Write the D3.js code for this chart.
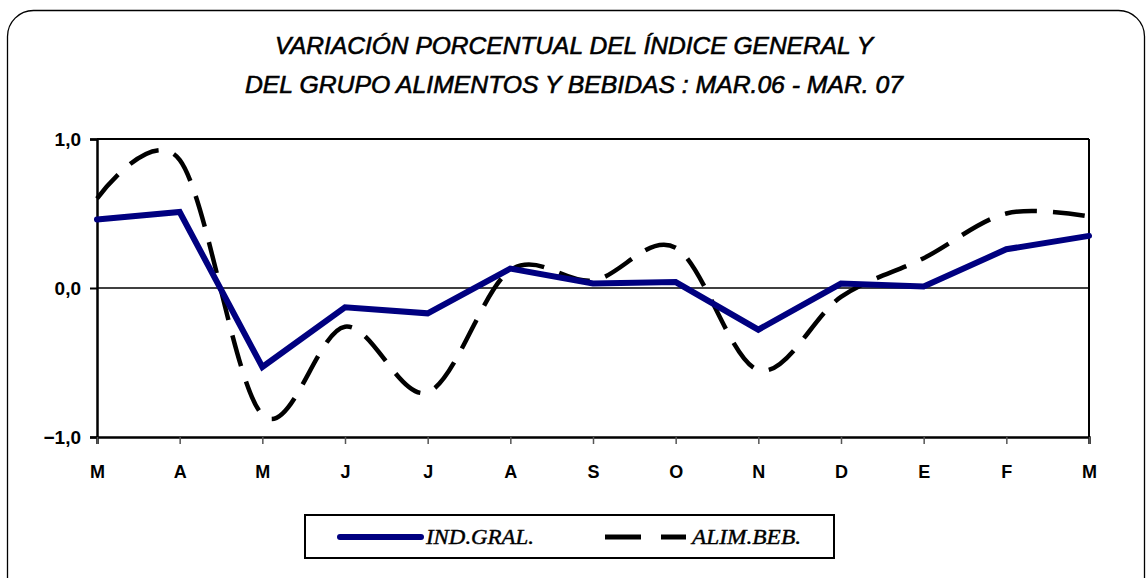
<!DOCTYPE html>
<html><head><meta charset="utf-8">
<script src="https://cdn.jsdelivr.net/npm/d3@7"></script>
<style>body{margin:0;background:#fff;}svg{display:block;}</style>
</head><body>
<svg id="c" width="1147" height="578"></svg>
<script>
const categories = ["M","A","M","J","J","A","S","O","N","D","E","F","M"];
const indGral   = [0.46, 0.51, -0.53, -0.13, -0.17, 0.13, 0.03, 0.04, -0.28, 0.03, 0.01, 0.26, 0.35];
const alimBeb   = [0.60, 0.86, -0.85, -0.26, -0.70, 0.12, 0.05, 0.27, -0.55, -0.06, 0.20, 0.50, 0.48];
const yTicks    = [-1, 0, 1];
const titleLines = ["VARIACIÓN PORCENTUAL DEL ÍNDICE GENERAL Y", "DEL GRUPO ALIMENTOS Y BEBIDAS : MAR.06 - MAR. 07"];
const seriesNames = ["IND.GRAL.", "ALIM.BEB."];

const svg = d3.select("#c");
// outer rounded frame
svg.append("rect").attr("x",7.5).attr("y",10.5).attr("width",1137).attr("height",600)
  .attr("rx",26).attr("fill","none").attr("stroke","#000").attr("stroke-width",1.3);

// title
const titleW = [598, 658];
titleLines.forEach((t,i)=>{
  svg.append("text").attr("x",574).attr("y",54+i*39).attr("text-anchor","middle")
    .attr("font-family","'Liberation Sans',Arial,sans-serif")
    .attr("font-style","italic").attr("font-size",24).attr("fill","#000")
    .attr("stroke","#000").attr("stroke-width",0.6)
    .attr("textLength",titleW[i]).attr("lengthAdjust","spacingAndGlyphs").text(t);
});

const x0=97, x1=1089, yTop=139, yBot=437;
const x = d3.scalePoint().domain(d3.range(categories.length)).range([x0,x1]);
const y = d3.scaleLinear().domain([-1,1]).range([yBot,yTop]);

// plot border top/right
svg.append("line").attr("x1",x0).attr("x2",x1).attr("y1",yTop).attr("y2",yTop).attr("stroke","#000").attr("stroke-width",2);
svg.append("line").attr("x1",x1).attr("x2",x1).attr("y1",yTop).attr("y2",yBot).attr("stroke","#000").attr("stroke-width",2);

// zero line
svg.append("line").attr("x1",x0).attr("x2",x1).attr("y1",y(0)).attr("y2",y(0)).attr("stroke","#000").attr("stroke-width",1.5);

const af = "'Liberation Sans',Arial,sans-serif";
// y axis
const yAxis = d3.axisLeft(y).tickValues(yTicks).tickSize(7).tickFormat(d=>d3.format(".1f")(d).replace(".",","));
const gy = svg.append("g").attr("transform",`translate(${x0},0)`).call(yAxis);
gy.attr("font-size",null).attr("font-family",null);
gy.select(".domain").attr("stroke","#000").attr("stroke-width",2.5);
gy.selectAll(".tick line").attr("stroke","#000").attr("stroke-width",2);
gy.selectAll(".tick text").style("font-family",af).style("font-weight","bold")
  .style("font-size","19px").attr("fill","#000").attr("x",-16);

// x axis
const xAxis = d3.axisBottom(x).tickSize(7).tickFormat(i=>categories[i]);
const gx = svg.append("g").attr("transform",`translate(0,${yBot})`).call(xAxis);
gx.attr("font-size",null).attr("font-family",null);
gx.select(".domain").attr("stroke","#000").attr("stroke-width",2.5);
gx.selectAll(".tick line").attr("stroke","#555").attr("stroke-width",1.5);
gx.selectAll(".tick text").style("font-family",af).style("font-weight","bold")
  .style("font-size","18px").attr("fill","#000").attr("y",28);

// series
const lineStraight = d3.line().x((d,i)=>x(i)).y(d=>y(d));
const lineSmooth = d3.line().x((d,i)=>x(i)).y(d=>y(d)).curve(d3.curveCatmullRom.alpha(0));
svg.append("path").datum(alimBeb).attr("d",lineSmooth).attr("fill","none")
  .attr("stroke","#000").attr("stroke-width",4.5).attr("stroke-dasharray","32,16");
svg.append("path").datum(indGral).attr("d",lineStraight).attr("fill","none")
  .attr("stroke","#000080").attr("stroke-width",6).attr("stroke-linejoin","miter").attr("stroke-linecap","round");

// legend
svg.append("rect").attr("x",305).attr("y",515).attr("width",529).attr("height",43)
  .attr("fill","#fff").attr("stroke","#000").attr("stroke-width",2);
svg.append("line").attr("x1",340).attr("x2",421).attr("y1",537).attr("y2",537)
  .attr("stroke","#000080").attr("stroke-width",6).attr("stroke-linecap","round");
svg.append("line").attr("x1",605).attr("x2",686).attr("y1",537).attr("y2",537)
  .attr("stroke","#000").attr("stroke-width",5).attr("stroke-dasharray","36,20");
const lf = "'Liberation Serif','Times New Roman',serif";
svg.append("text").attr("x",426).attr("y",544).attr("font-family",lf).attr("font-style","italic")
  .attr("font-size",20).attr("fill","#000").attr("stroke","#000").attr("stroke-width",0.4)
  .attr("textLength",108).attr("lengthAdjust","spacingAndGlyphs").text(seriesNames[0]);
svg.append("text").attr("x",692).attr("y",544).attr("font-family",lf).attr("font-style","italic")
  .attr("font-size",20).attr("fill","#000").attr("stroke","#000").attr("stroke-width",0.4)
  .attr("textLength",109).attr("lengthAdjust","spacingAndGlyphs").text(seriesNames[1]);
</script>
</body></html>
